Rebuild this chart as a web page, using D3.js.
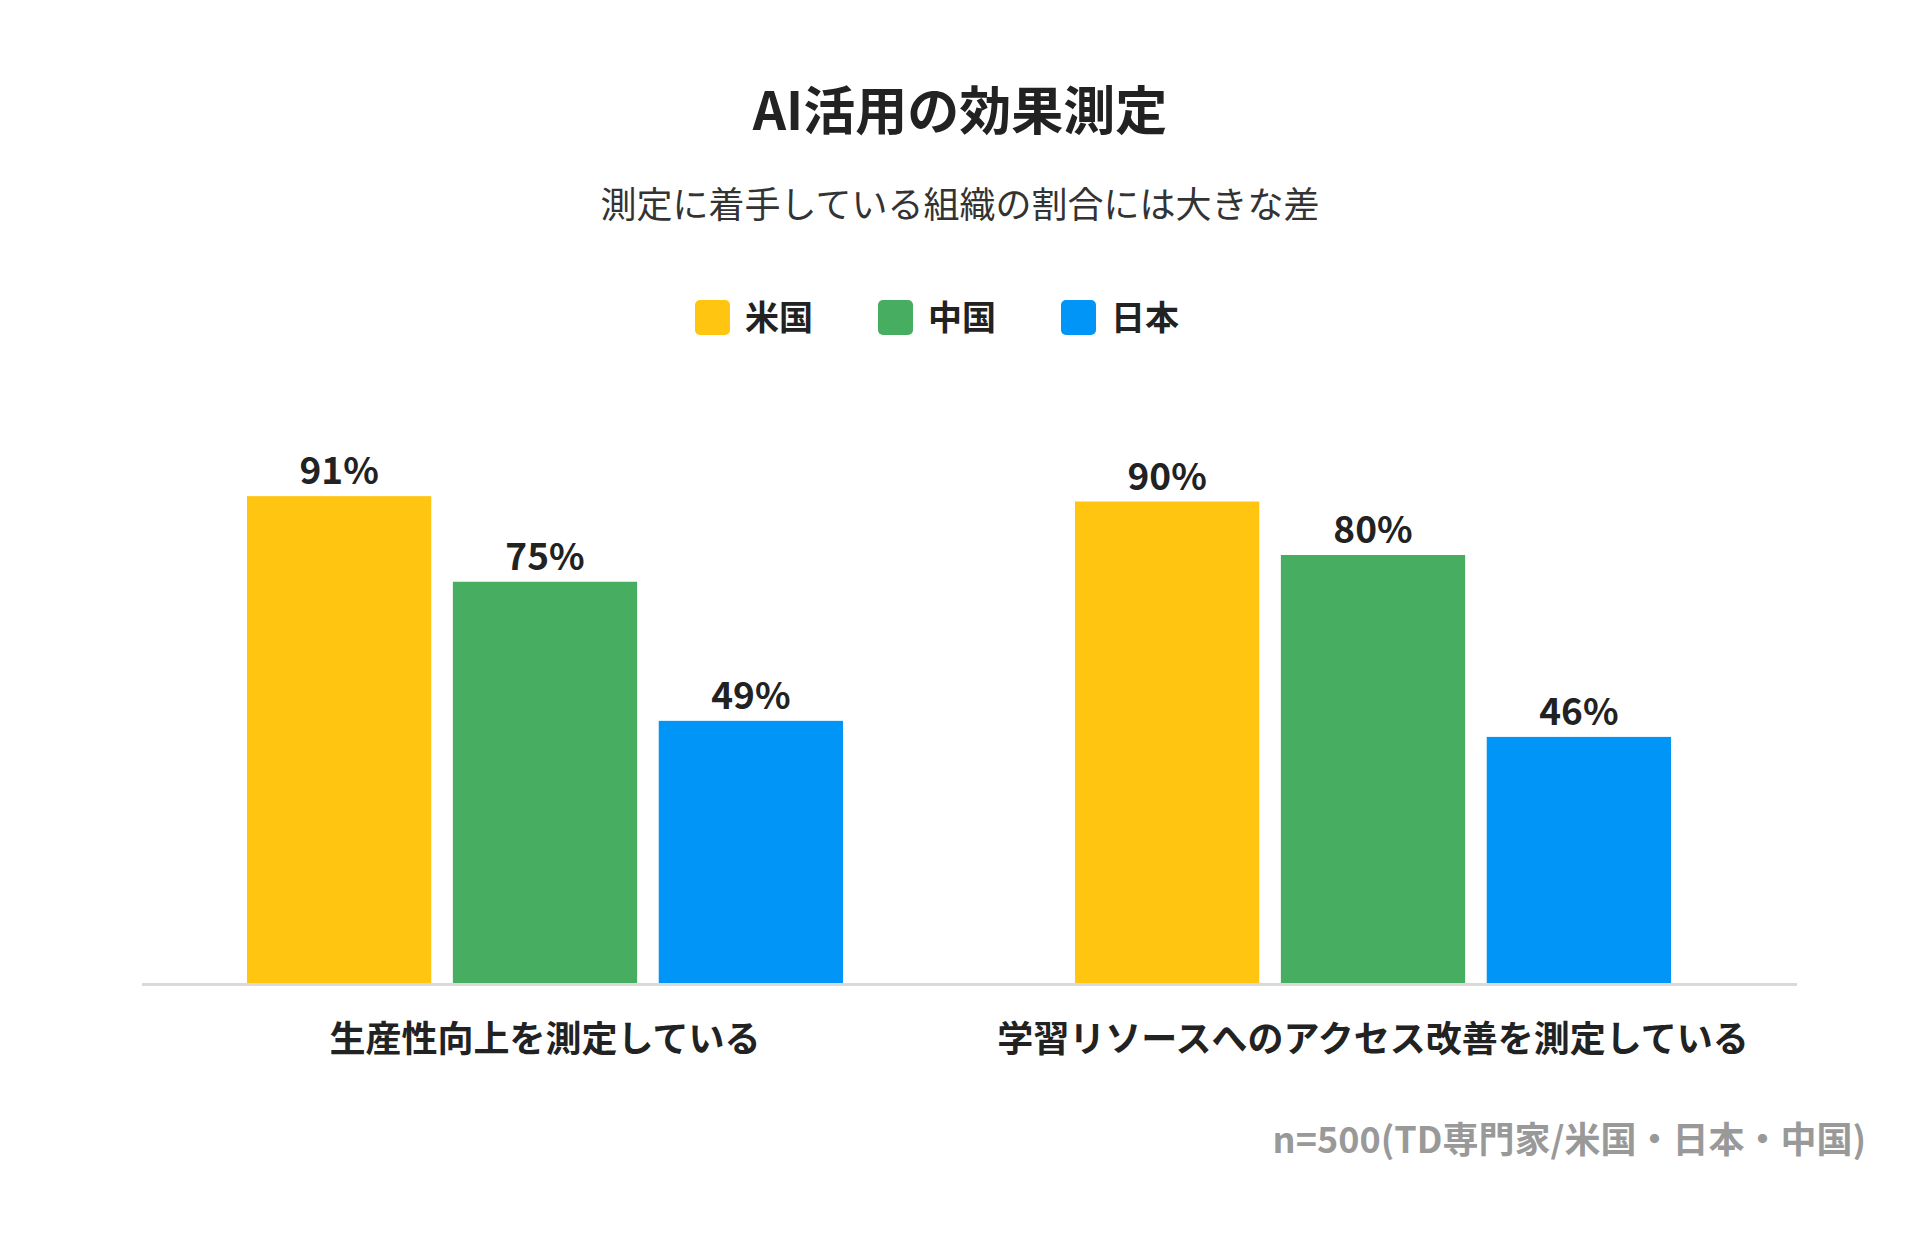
<!DOCTYPE html>
<html>
<head>
<meta charset="utf-8">
<script src="https://cdn.jsdelivr.net/npm/d3@7"></script>
<style>
  body { margin: 0; background: #fff; }
  text { font-family: "Noto Sans CJK JP", "Noto Sans", sans-serif; }
</style>
</head>
<body>
<svg id="chart" width="1920" height="1236"></svg>
<script>
const categories = ["生産性向上を測定している", "学習リソースへのアクセス改善を測定している"];
const series = ["米国", "中国", "日本"];
const values = {
  "米国": [91, 90],
  "中国": [75, 80],
  "日本": [49, 46]
};
const colors = ["#FFC511", "#47AD60", "#0095F6"];

const svg = d3.select("#chart");
const baseY = 983;

var y = d3.scaleLinear().domain([0, 100]).range([baseY, 448]);
var x0 = d3.scalePoint().domain(categories).range([131, 1787]).padding(0.5);
var x1 = d3.scaleBand().domain(series).range([-298, 298]).paddingInner(0.105);
var color = d3.scaleOrdinal().domain(series).range(colors);

// title
svg.append("text").attr("x", 960).attr("y", 130).attr("text-anchor", "middle")
  .attr("font-size", 52).attr("font-weight", 700).attr("fill", "#222")
  .text("AI活用の効果測定");
svg.append("text").attr("x", 960).attr("y", 218).attr("text-anchor", "middle")
  .attr("font-size", 36).attr("fill", "#333")
  .text("測定に着手している組織の割合には大きな差");

// legend
var legendX = [695, 878, 1061];
var lg = svg.selectAll("g.legend").data(series).enter().append("g")
  .attr("transform", (d, i) => "translate(" + legendX[i] + ",300)");
lg.append("rect").attr("width", 35).attr("height", 35).attr("rx", 5)
  .attr("fill", d => color(d));
lg.append("text").attr("x", 50).attr("y", 30).attr("font-size", 34)
  .attr("font-weight", 700).attr("fill", "#222").text(d => d);

// axis line
svg.append("line").attr("x1", 142).attr("x2", 1797).attr("y1", baseY + 1.5).attr("y2", baseY + 1.5)
  .attr("stroke", "#d9d9d9").attr("stroke-width", 3);

// bars
var groups = svg.selectAll("g.grp").data(categories).enter().append("g")
  .attr("transform", d => "translate(" + x0(d) + ",0)");
groups.each(function (cat, ci) {
  var g = d3.select(this);
  var data = series.map(s => ({ s: s, v: values[s][ci] }));
  g.selectAll("rect").data(data).enter().append("rect")
    .attr("x", d => x1(d.s)).attr("width", x1.bandwidth())
    .attr("y", d => y(d.v)).attr("height", d => baseY - y(d.v))
    .attr("fill", d => color(d.s));
  g.selectAll("text.val").data(data).enter().append("text")
    .attr("x", d => x1(d.s) + x1.bandwidth() / 2).attr("y", d => y(d.v) - 12)
    .attr("text-anchor", "middle").attr("font-size", 37).attr("font-weight", 700)
    .attr("fill", "#222").text(d => d.v + "%");
  g.append("text").attr("x", 0).attr("y", 1052).attr("text-anchor", "middle")
    .attr("font-size", 36).attr("font-weight", 700).attr("fill", "#222").text(cat);
});

// source
svg.append("text").attr("x", 1866).attr("y", 1153).attr("text-anchor", "end")
  .attr("font-size", 36).attr("font-weight", 700).attr("fill", "#999")
  .text("n=500(TD専門家/米国・日本・中国)");
</script>
</body>
</html>
